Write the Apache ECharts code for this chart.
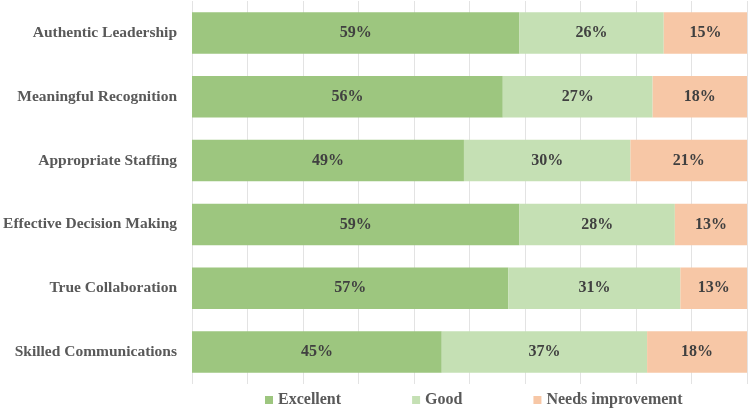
<!DOCTYPE html>
<html><head><meta charset="utf-8">
<script src="https://cdn.jsdelivr.net/npm/echarts@6/dist/echarts.min.js"></script>
<style>html,body{margin:0;padding:0;background:#fff}#c{width:750px;height:409px}</style>
</head><body><div id="c"></div>
<script>
const categories = ["Authentic Leadership","Meaningful Recognition","Appropriate Staffing","Effective Decision Making","True Collaboration","Skilled Communications"];
const excellent = [59,56,49,59,57,45];
const good = [26,27,30,28,31,37];
const needsImprovement = [15,18,21,13,13,18];
const seriesNames = ["Excellent","Good","Needs improvement"];
const colors = ["#9dc67f","#c5e0b4","#f7c7a6"];
const font = "'Liberation Serif','Times New Roman',serif";
const chart = echarts.init(document.getElementById('c'));
const mk = (name, data, color) => ({
  name, type:'bar', stack:'s', data, barWidth:'65%', clip:true,
  itemStyle:{color},
  label:{show:true, position:'inside', formatter:'{c}%', fontFamily:font, fontWeight:'bold', fontSize:16, color:'#404040'}
});
chart.setOption({
  animation:false,
  grid:{left:192,right:3,top:1,bottom:25,containLabel:false,outerBoundsMode:'none'},
  legend:{top:387,left:260,itemWidth:8,itemHeight:8,itemGap:71,icon:'rect',
    textStyle:{fontFamily:font,fontWeight:'bold',fontSize:16,color:'#595959'},data:seriesNames},
  xAxis:{type:'value',min:0,max:100,interval:10,axisLabel:{show:false},
    axisLine:{show:false},axisTick:{show:false},
    splitLine:{show:true,lineStyle:{color:'#e3e3e3',width:1}}},
  yAxis:{type:'category',inverse:true,data:categories,
    axisLine:{show:false},axisTick:{show:false},
    axisLabel:{margin:15,fontFamily:font,fontWeight:'bold',fontSize:15.5,color:'#595959'}},
  series:[mk(seriesNames[0],excellent,colors[0]),mk(seriesNames[1],good,colors[1]),mk(seriesNames[2],needsImprovement,colors[2])]
});
</script></body></html>
